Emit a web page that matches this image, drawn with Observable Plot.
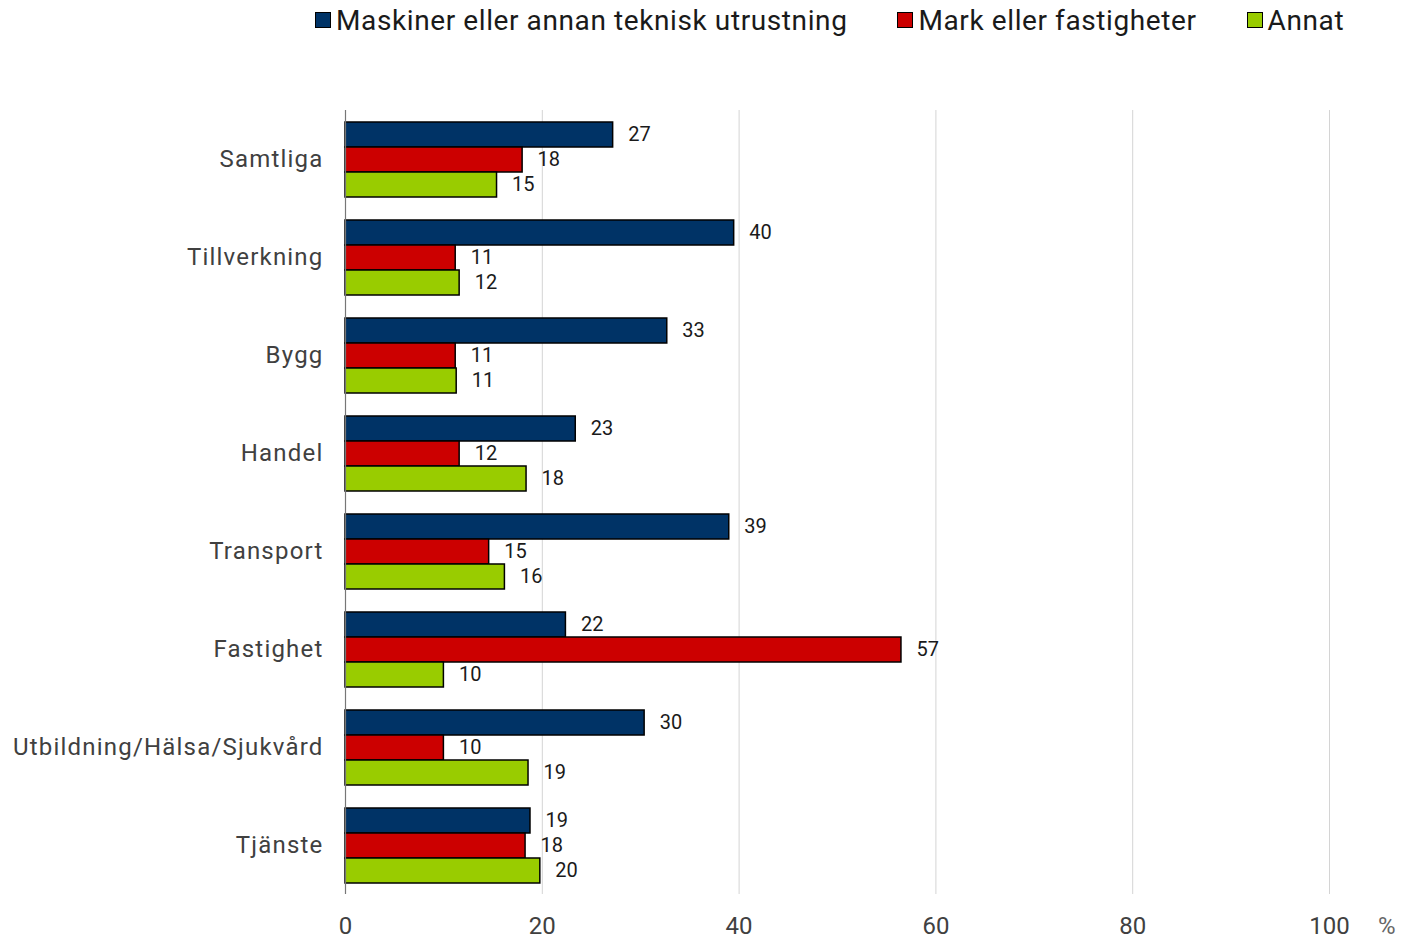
<!DOCTYPE html>
<html>
<head>
<meta charset="utf-8">
<script src="https://cdn.jsdelivr.net/npm/d3@7"></script>
<script src="https://cdn.jsdelivr.net/npm/@observablehq/plot@0.6"></script>
<style>
  html, body { margin: 0; padding: 0; background: #fff; }
  body { width: 1409px; height: 941px; position: relative; overflow: hidden; font-family: Roboto, "Noto Sans", sans-serif; }
  #legend { position: absolute; left: 315px; top: 0px; height: 40px; display: flex; align-items: center; gap: 50px; font-size: 28px; letter-spacing: 0.6px; color: #1a1a1a; }
  .item { display: flex; align-items: center; gap: 5px; white-space: nowrap; }
  .sw { width: 14px; height: 14px; border: 1px solid #000; display: inline-block; }
  #chart { position: absolute; left: 0; top: 50px; }
  #pct { position: absolute; left: 1378px; top: 912px; font-size: 24px; color: #666; }
</style>
</head>
<body>
<div id="legend"></div>
<div id="chart"></div>
<div id="pct">%</div>
<script>
const categories = ["Samtliga", "Tillverkning", "Bygg", "Handel", "Transport", "Fastighet", "Utbildning/Hälsa/Sjukvård", "Tjänste"];
const seriesNames = ["Maskiner eller annan teknisk utrustning", "Mark eller fastigheter", "Annat"];
const seriesColors = ["#003366", "#cc0000", "#99cc00"];
const maskiner = [27.2, 39.5, 32.7, 23.4, 39.0, 22.4, 30.4, 18.8];
const mark = [18.0, 11.2, 11.2, 11.6, 14.6, 56.5, 10.0, 18.3];
const annat = [15.4, 11.6, 11.3, 18.4, 16.2, 10.0, 18.6, 19.8];
const xTicks = [0, 20, 40, 60, 80, 100];

const seriesValues = [maskiner, mark, annat];
const rows = [];
categories.forEach((c, i) => {
  seriesNames.forEach((s, j) => rows.push({category: c, series: s, value: seriesValues[j][i]}));
});

const legend = document.getElementById("legend");
seriesNames.forEach((s, j) => {
  const it = document.createElement("div");
  it.className = "item";
  it.innerHTML = `<span class="sw" style="background:${seriesColors[j]}"></span><span>${s}</span>`;
  legend.appendChild(it);
});

const chart = Plot.plot({
  width: 1409,
  height: 891,
  marginLeft: 345,
  marginRight: 80,
  marginTop: 59,
  marginBottom: 46,
  style: {fontFamily: "Roboto, 'Noto Sans', sans-serif", fontSize: "24px", color: "#404040", background: "#fff"},
  facet: {data: rows, y: "category"},
  fy: {domain: categories, padding: 0, label: null, tickSize: 0, tickPadding: 22},
  y: {domain: seriesNames, paddingInner: 0, paddingOuter: 0.46, axis: null},
  x: {domain: [0, 100], ticks: xTicks, tickSize: 0, tickPadding: 22, label: null},
  color: {domain: seriesNames, range: seriesColors},
  marks: [
    Plot.ruleX(xTicks.filter(d => d > 0), {stroke: "#d4d4d4", strokeWidth: 1}),
    Plot.barX(rows, {x: "value", y: "series", fill: "series", stroke: "#000", strokeWidth: 1.5}),
    Plot.text(rows, {x: "value", y: "series", text: d => d3.format(".0f")(d.value), dx: 15, textAnchor: "start", fontSize: 20, fill: "#1a1a1a", ariaLabel: "value-label"}),
    Plot.ruleX([0], {stroke: "#777", strokeWidth: 1.2})
  ]
});
chart.querySelectorAll("text").forEach(t => {
  if (categories.includes(t.textContent)) t.setAttribute("letter-spacing", "1.2");
});
chart.querySelectorAll('g[aria-label="value-label"] text').forEach(t => t.setAttribute("letter-spacing", "2.5"));
document.getElementById("chart").appendChild(chart);
</script>
</body>
</html>
